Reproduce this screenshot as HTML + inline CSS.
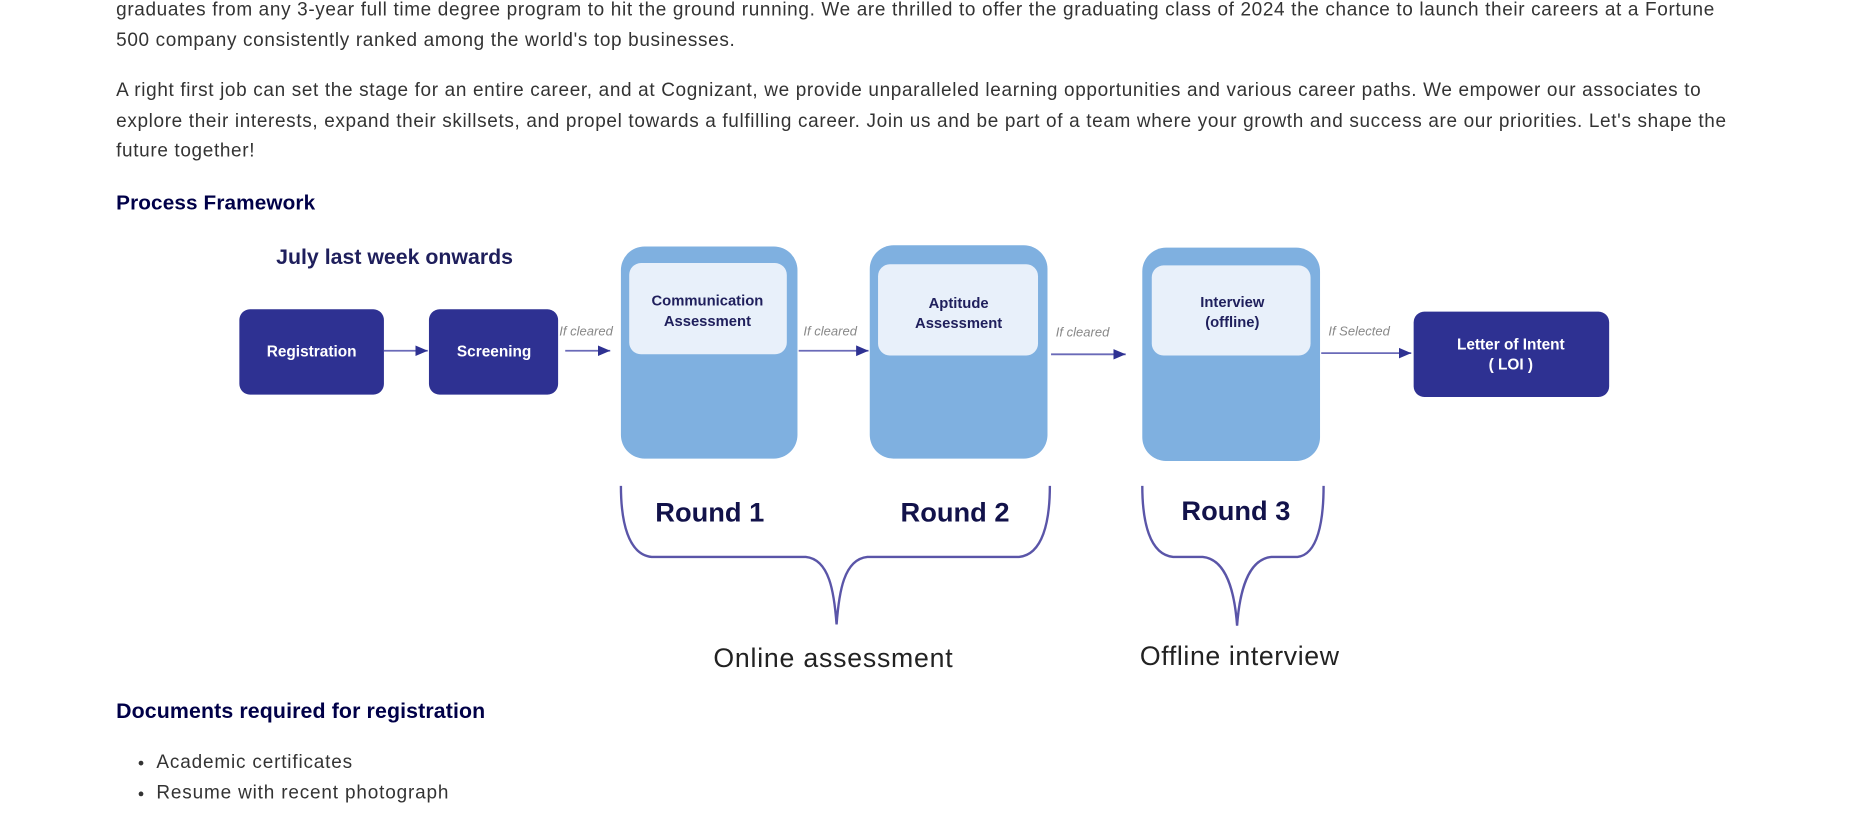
<!DOCTYPE html>
<html><head><meta charset="utf-8"><style>
html,body{margin:0;padding:0;background:#fff;width:1858px;height:821px;overflow:hidden}
#w{position:absolute;left:0;top:0;width:1568px;height:693px;transform:scale(1.18495);transform-origin:0 0;font-family:"Liberation Sans",sans-serif}
.p{position:absolute;left:98px;width:1375px;font-size:16px;line-height:25.7px;color:#333;margin:0;letter-spacing:0.55px}
.h{position:absolute;left:98px;font-size:17.5px;font-weight:bold;color:#000048;margin:0;letter-spacing:0.1px}
svg text{font-family:"Liberation Sans",sans-serif}
li{font-size:16px;color:#333;line-height:26px;letter-spacing:0.7px}
</style></head><body>
<div id="w">
<p class="p" style="top:-4px">graduates from any 3-year full time degree program to hit the ground running. We are thrilled to offer the graduating class of 2024 the chance to launch their careers at a Fortune 500 company consistently ranked among the world's top businesses.</p>
<p class="p" style="top:64px">A right first job can set the stage for an entire career, and at Cognizant, we provide unparalleled learning opportunities and various career paths. We empower our associates to explore their interests, expand their skillsets, and propel towards a fulfilling career. Join us and be part of a team where your growth and success are our priorities. Let's shape the future together!</p>
<h3 class="h" style="top:161px">Process Framework</h3>
<svg style="position:absolute;left:0;top:0" width="1568" height="693">
<defs><marker id="ar" markerWidth="8" markerHeight="8" refX="7" refY="4" orient="auto"><path d="M0,1 L7,4 L0,7z" fill="#2e3192"/></marker></defs>
<text x="333" y="223" text-anchor="middle" font-size="18" font-weight="bold" fill="#1f1f5c">July last week onwards</text>
<g fill="#2e3192">
<rect x="202" y="261" width="122" height="72" rx="9"/>
<rect x="362" y="261" width="109" height="72" rx="9"/>
<rect x="1193" y="263" width="165" height="72" rx="9"/>
</g>
<g fill="#fff" font-size="13" font-weight="bold" text-anchor="middle">
<text x="263" y="301">Registration</text>
<text x="417" y="301">Screening</text>
<text x="1275" y="295">Letter of Intent</text>
<text x="1275" y="312">( LOI )</text>
</g>
<g fill="#7fb0e0">
<rect x="524" y="208" width="149" height="179" rx="20"/>
<rect x="734" y="207" width="150" height="180" rx="20"/>
<rect x="964" y="209" width="150" height="180" rx="20"/>
</g>
<g fill="#e8f0fa">
<rect x="531" y="222" width="133" height="77" rx="10"/>
<rect x="741" y="223" width="135" height="77" rx="10"/>
<rect x="972" y="224" width="134" height="76" rx="10"/>
</g>
<g fill="#1f1f5c" font-size="12.5" font-weight="bold" text-anchor="middle">
<text x="597" y="258">Communication</text><text x="597" y="275">Assessment</text>
<text x="809" y="260">Aptitude</text><text x="809" y="277">Assessment</text>
<text x="1040" y="259">Interview</text><text x="1040" y="276">(offline)</text>
</g>
<g stroke="#6a6ab8" stroke-width="1.5" marker-end="url(#ar)">
<line x1="324" y1="296" x2="361" y2="296"/>
<line x1="477" y1="296" x2="515" y2="296"/>
<line x1="674" y1="296" x2="733" y2="296"/>
<line x1="887" y1="299" x2="950" y2="299"/>
<line x1="1115" y1="298" x2="1191" y2="298"/>
</g>
<g fill="#888" font-size="11" font-style="italic">
<text x="472" y="283">If cleared</text>
<text x="678" y="283">If cleared</text>
<text x="891" y="284">If cleared</text>
<text x="1121" y="283">If Selected</text>
</g>
<g fill="none" stroke="#5a55a8" stroke-width="2">
<path d="M524,410 C524,440 530,468 550,470 L680,470 C700,472 704,500 706,527 C708,500 712,472 732,470 L860,470 C880,468 886,440 886,410"/>
<path d="M964,410 C964,440 970,468 990,470 L1015,470 C1035,472 1042,500 1044,528 C1046,500 1053,472 1073,470 L1095,470 C1112,468 1117,440 1117,410"/>
</g>
<g fill="#12124a" font-size="23" font-weight="bold">
<text x="553" y="440">Round 1</text>
<text x="760" y="440">Round 2</text>
<text x="997" y="439">Round 3</text>
</g>
<g fill="#222" font-size="22.5">
<text x="602" y="563" textLength="202">Online assessment</text>
<text x="962" y="561" textLength="168">Offline interview</text>
</g>
</svg>
<h3 class="h" style="top:590px;font-size:18px;letter-spacing:0.1px">Documents required for registration</h3>
<ul style="position:absolute;left:92px;top:631px;margin:0;padding-left:40px">
<li>Academic certificates</li>
<li>Resume with recent photograph</li>
</ul>
</div>
</body></html>
